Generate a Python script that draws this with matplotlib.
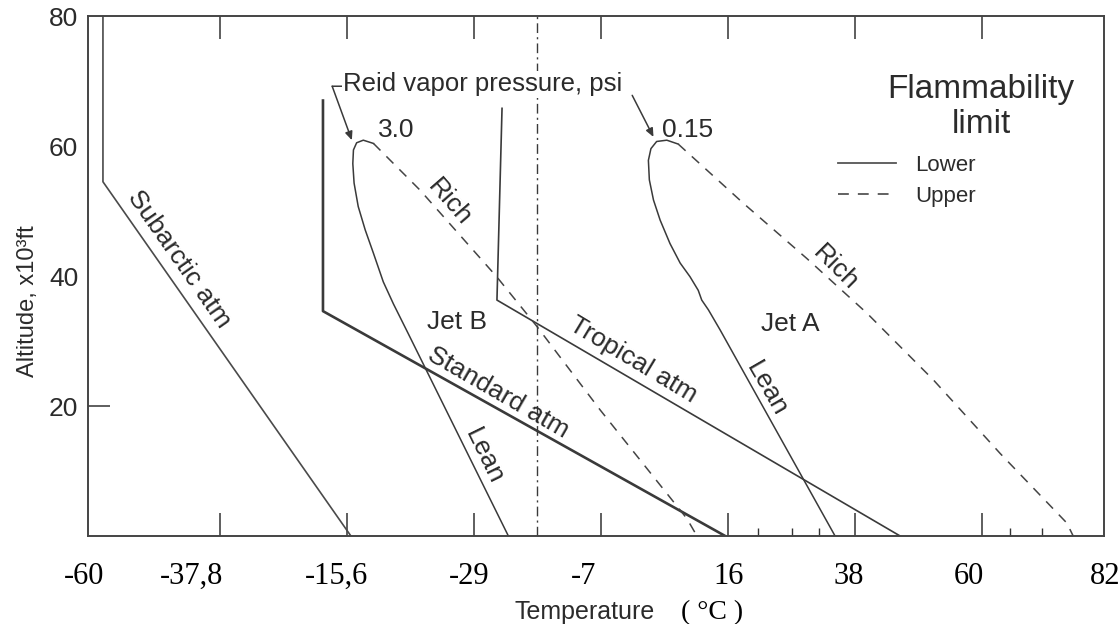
#!/usr/bin/env python3

import matplotlib.pyplot as plt
from matplotlib.lines import Line2D
from matplotlib.transforms import blended_transform_factory

plt.rcParams['font.family'] = ['Liberation Sans', 'DejaVu Sans']

# temperature on the underlying scale (deg F), altitude in 1000 ft
subarctic_t = [-136.8, -136.8, -58.7]
subarctic_h = [80, 54.5, 0]
standard_t = [-67.5, -67.5, 59.2]
standard_h = [67, 34.6, 0]
tropical_t = [-11.1, -12.7, 114.3]
tropical_h = [65.8, 36.3, 0]

# Jet B (RVP 3.0) flammability limits
jetb_lean_t = [-51.6, -54.8, -56.9, -57.9, -58.1, -57.7, -56.4, -54.2,
               -51.6, -48.5, -45.3, -40.6, -9.1]
jetb_lean_h = [60.4, 60.9, 60.5, 59.4, 57.3, 54.3, 50.7, 47.1,
               43.5, 39.1, 35.7, 31.1, 0]
jetb_rich_t = [-51.6, -36.9, -12.8, -0.2, 19.8, 47.1, 50.3]
jetb_rich_h = [60.4, 53.2, 39.9, 32.3, 19.4, 2.7, 0]

# Jet A (RVP 0.15) flammability limits
jeta_lean_t = [44.4, 40.8, 37.6, 35.8, 35.0, 35.3, 36.6, 38.7, 41.8,
               45.0, 48.1, 50.7, 51.8, 53.9, 57.6, 93.8]
jeta_lean_h = [60.3, 60.9, 60.7, 59.6, 57.8, 54.8, 51.7, 48.6, 45.0,
               42.0, 39.9, 37.8, 36.3, 34.8, 31.7, 0]
jeta_rich_t = [44.4, 64.9, 84.9, 103.8, 124.8, 145.8, 166.8, 168.8]
jeta_rich_h = [60.3, 51.2, 42.7, 34.3, 24.0, 12.7, 2.0, 0]

zero_line_t = 0

# axis ticks and the (celsius) labels written under them
major_ticks = [-100, -60, -20, 20, 60, 100, 140]
small_ticks = [69.6, 80.3, 88.8, 148.9, 159.0]
label_pos = [-142.8, -108.8, -63.2, -21.6, 14.7, 60.1, 98.2, 136.0, 178.9]
label_txt = ['-60', '-37,8', '-15,6', '-29', '-7', '16', '38', '60', '82']
y_ticks = [20, 40, 60, 80]

line_c = '#3a3a3a'
text_c = '#2b2b2b'

fig = plt.figure(figsize=(11.2, 6.24), dpi=100)
ax = fig.add_axes([0.0786, 0.141, 0.9071, 0.8333])
ax.set_xlim(-141.5, 178.5)
ax.set_ylim(0, 80)

dashes = (0, (6.5, 5.5))
ax.plot(subarctic_t, subarctic_h, color='#4a4a4a', lw=1.2)
ax.plot(standard_t, standard_h, color=line_c, lw=1.9)
ax.plot(tropical_t, tropical_h, color=line_c, lw=1.2)
ax.plot(jetb_lean_t, jetb_lean_h, color=line_c, lw=1.1)
ax.plot(jetb_rich_t, jetb_rich_h, color='#444444', lw=1.1, ls=dashes)
ax.plot(jeta_lean_t, jeta_lean_h, color=line_c, lw=1.1)
ax.plot(jeta_rich_t, jeta_rich_h, color='#444444', lw=1.1, ls=dashes)
ax.axvline(zero_line_t, color=line_c, lw=1.0, ls=(0, (7, 3, 1.5, 3)))

# frame and ticks
for s in ax.spines.values():
    s.set_color('#444444')
    s.set_linewidth(1.4)
ax.set_xticks(major_ticks)
ax.set_xticks(small_ticks, minor=True)
ax.tick_params(axis='x', which='major', direction='in', length=16.5, width=1.1,
               top=True, bottom=True, labelbottom=False, color='#333333')
ax.tick_params(axis='x', which='minor', direction='in', length=6, width=1.0,
               top=False, bottom=True, color='#333333')
ax.set_yticks(y_ticks)
ax.tick_params(axis='y', direction='in', length=16, width=1.1, pad=7,
               labelsize=19, labelcolor=text_c, color='#333333')
for t in ax.yaxis.get_major_ticks()[1:]:
    t.tick1line.set_visible(False)

trans = blended_transform_factory(ax.transData, ax.transAxes)
for p, lab in zip(label_pos, label_txt):
    ax.text(p, -0.077, lab, transform=trans, ha='center', va='center',
            fontsize=22, family='Liberation Serif', color='black', clip_on=False)

fig.text(0.522, 0.019, 'Temperature', ha='center', va='center', fontsize=18, color=text_c)
fig.text(0.636, 0.019, '( °C )', ha='center', va='center', fontsize=20,
         family='Liberation Serif', color='black')

ax.set_ylabel('Altitude, x10³ft', fontsize=17, color=text_c)
ax.yaxis.set_label_coords(-0.048, 0.452)

# curve labels
lab_kw = dict(fontsize=19, color=text_c, ha='center', va='center', rotation_mode='anchor')
ax.text(-112.8, 42.6, 'Subarctic atm', rotation=-55, **lab_kw)
ax.text(-12.3, 22.1, 'Standard atm', rotation=-30, **lab_kw)
ax.text(30.3, 27.1, 'Tropical atm', rotation=-31, **lab_kw)
ax.text(-25.2, 33.0, 'Jet B', **lab_kw)
ax.text(79.6, 32.6, 'Jet A', **lab_kw)
ax.text(-27.8, 51.4, 'Rich', rotation=-49, **lab_kw)
ax.text(93.8, 41.3, 'Rich', rotation=-45, **lab_kw)
ax.text(-16.8, 12.2, 'Lean', rotation=-64, **lab_kw)
ax.text(72.3, 22.7, 'Lean', rotation=-60, **lab_kw)
ax.text(-44.3, 62.5, '3.0', **lab_kw)
ax.text(47.2, 62.5, '0.15', **lab_kw)

ax.text(-61.2, 69.5, 'Reid vapor pressure, psi', fontsize=18.5, color=text_c,
        ha='left', va='center', zorder=5,
        bbox=dict(facecolor='white', edgecolor='none', pad=1))
arrow_kw = dict(arrowstyle='-|>,head_length=0.5,head_width=0.22', color=line_c,
                lw=1.1, shrinkA=0, shrinkB=0)
ax.annotate('', xy=(-64.6, 69.2), xytext=(-61.2, 69.2),
            arrowprops=dict(arrowstyle='-', color=line_c, lw=1.1, shrinkA=0, shrinkB=0))
ax.annotate('', xy=(-58.4, 60.9), xytext=(-64.6, 69.2), arrowprops=arrow_kw)
ax.annotate('', xy=(36.6, 61.4), xytext=(29.9, 67.8), arrowprops=arrow_kw)

# legend
ax.text(139.8, 66.0, 'Flammability\nlimit', fontsize=24, color=text_c,
        ha='center', va='center', multialignment='center', linespacing=1.15)
handles = [Line2D([], [], color='#555555', lw=1.3),
           Line2D([], [], color='#555555', lw=1.3, ls=(0, (6, 5)))]
ax.legend(handles, ['Lower', 'Upper'], loc='upper left', bbox_to_anchor=(0.738, 0.733),
          frameon=False, fontsize=16, handlelength=2.6, handletextpad=0.9,
          labelspacing=0.45, borderpad=0, borderaxespad=0, labelcolor=text_c)

fig.savefig('out.png', dpi=100, facecolor='white')
